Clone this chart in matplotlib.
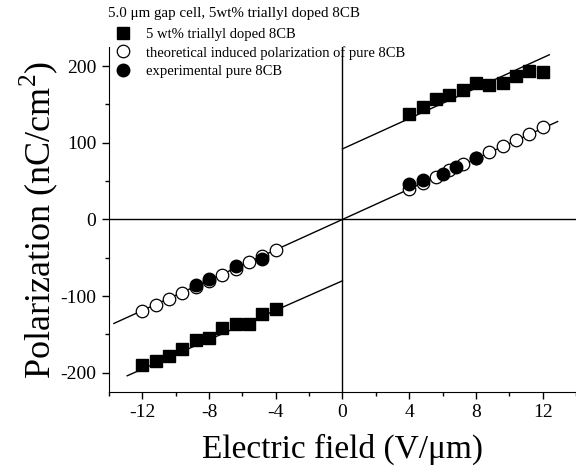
import numpy as np
import matplotlib
matplotlib.use("Agg")
import matplotlib.pyplot as plt

plt.rcParams['font.family'] = ['Liberation Serif', 'DejaVu Serif']
plt.rcParams['mathtext.fontset'] = 'custom'
plt.rcParams['mathtext.rm'] = 'Liberation Serif'
plt.rcParams['axes.unicode_minus'] = False

# field values (V/um)
field_pos = [4.0, 4.8, 5.6, 6.4, 7.2, 8.0, 8.8, 9.6, 10.4, 11.2, 12.0]
field_neg = [-12.0, -11.2, -10.4, -9.6, -8.8, -8.0, -7.2, -6.4, -5.6, -4.8, -4.0]

# 5 wt% triallyl doped 8CB
doped_pos = [137, 147, 157, 162, 169, 178, 176, 178, 187, 194, 192]
doped_neg = [-190, -184, -178, -169, -157, -154, -142, -136, -136, -123, -117]

# theoretical induced polarization of pure 8CB
theory_pos = [40, 48, 56, 64, 72, 80, 88, 96, 104, 112, 120]
theory_neg = [-120, -112, -104, -96, -88, -80, -72, -64, -56, -48, -40]

# experimental pure 8CB
exp_field = [-8.8, -8.0, -6.4, -4.8, 4.0, 4.8, 6.0, 6.8, 8.0]
exp_pol = [-85, -77, -61, -51, 46, 52, 59, 69, 80]

# linear fits (intercept, slope, x range)
fit_doped_pos = (92, 9.9, 0, 12.4)
fit_doped_neg = (-80, 9.6, -12.9, 0)
fit_theory = (0, 9.9, -13.7, 12.9)

fig = plt.figure(figsize=(5.76, 4.74), dpi=100)
ax = fig.add_axes([0.189, 0.173, 0.811, 0.728])

for b, m, x0, x1 in [fit_doped_pos, fit_doped_neg, fit_theory]:
    xs = np.array([x0, x1])
    ax.plot(xs, b + m * xs, color='black', lw=1)

ax.axhline(0, color='black', lw=1)
ax.axvline(0, color='black', lw=1)

ax.plot(field_pos + field_neg, doped_pos + doped_neg, 's', color='black',
        markersize=8.5, label='5 wt% triallyl doped 8CB')
ax.plot(field_pos + field_neg, theory_pos + theory_neg, 'o', mfc='white', mec='black',
        markersize=9, mew=0.9, label='theoretical induced polarization of pure 8CB')
ax.plot(exp_field, exp_pol, 'o', color='black', markersize=9,
        label='experimental pure 8CB')

ax.set_xlim(-14, 14)
ax.set_ylim(-225, 225)
ax.set_xticks([-12, -8, -4, 0, 4, 8, 12])
ax.set_xticks(np.arange(-14, 15, 2), minor=True)
ax.set_yticks([-200, -100, 0, 100, 200])
ax.set_yticks(np.arange(-200, 201, 50), minor=True)
ax.tick_params(which='major', direction='out', length=5, width=1, labelsize=14, pad=4)
ax.tick_params(which='minor', direction='out', length=3, width=1)
ax.spines['top'].set_visible(False)
ax.spines['right'].set_visible(False)

ax.set_xlabel('Electric field (V/\u03bcm)', fontsize=24, labelpad=9)
ax.set_ylabel('Polarization (nC/cm$^{2}$)', fontsize=26, labelpad=0)

fig.text(0.188, 0.972, '5.0 \u03bcm gap cell, 5wt% triallyl doped 8CB', fontsize=10.8,
         va='center', ha='left')
leg = ax.legend(loc='upper left', bbox_to_anchor=(0.195, 0.942), bbox_transform=fig.transFigure,
                frameon=False, fontsize=10.5, handletextpad=0.8, labelspacing=0.35,
                borderpad=0, borderaxespad=0, handlelength=1.5)

fig.savefig('out.png', dpi=100)
